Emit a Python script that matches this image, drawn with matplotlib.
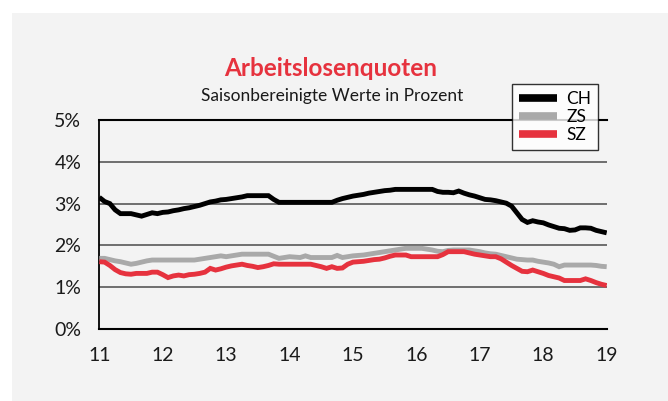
import matplotlib
matplotlib.use("Agg")
import matplotlib.pyplot as plt
from matplotlib.patches import Rectangle
import numpy as np

plt.rcParams['font.family'] = ['Lato', 'DejaVu Sans']

# Monthly values, Jan 2011 .. Jan 2019 (in %)
ch = [3.15, 3.05, 3.00, 2.85, 2.76, 2.76, 2.76, 2.73, 2.70, 2.74, 2.78, 2.76,
      2.79, 2.80, 2.83, 2.85, 2.88, 2.90, 2.93, 2.96, 3.00, 3.04, 3.06, 3.09,
      3.10, 3.12, 3.14, 3.16, 3.19, 3.19, 3.19, 3.19, 3.19, 3.10, 3.03, 3.03,
      3.03, 3.03, 3.03, 3.03, 3.03, 3.03, 3.03, 3.03, 3.03, 3.08, 3.12, 3.15,
      3.18, 3.20, 3.22, 3.25, 3.27, 3.29, 3.31, 3.32, 3.34, 3.34, 3.34, 3.34,
      3.34, 3.34, 3.34, 3.34, 3.29, 3.27, 3.27, 3.26, 3.30, 3.25, 3.21, 3.18,
      3.14, 3.10, 3.09, 3.07, 3.04, 3.01, 2.94, 2.78, 2.62, 2.55, 2.59, 2.56,
      2.54, 2.49, 2.45, 2.41, 2.40, 2.36, 2.37, 2.42, 2.42, 2.41, 2.36, 2.33,
      2.30]
zs = [1.69, 1.69, 1.66, 1.63, 1.61, 1.58, 1.55, 1.57, 1.60, 1.63, 1.65, 1.65,
      1.65, 1.65, 1.65, 1.65, 1.65, 1.65, 1.65, 1.67, 1.69, 1.71, 1.73, 1.75,
      1.73, 1.75, 1.77, 1.79, 1.79, 1.79, 1.79, 1.79, 1.79, 1.74, 1.69, 1.71,
      1.73, 1.72, 1.71, 1.75, 1.71, 1.71, 1.71, 1.71, 1.71, 1.76, 1.71, 1.73,
      1.75, 1.76, 1.77, 1.79, 1.81, 1.83, 1.85, 1.87, 1.89, 1.91, 1.93, 1.93,
      1.93, 1.93, 1.91, 1.89, 1.86, 1.85, 1.88, 1.89, 1.89, 1.89, 1.89, 1.87,
      1.85, 1.82, 1.80, 1.79, 1.76, 1.73, 1.70, 1.67, 1.66, 1.65, 1.65, 1.62,
      1.60, 1.58, 1.55, 1.49, 1.53, 1.53, 1.53, 1.53, 1.53, 1.53, 1.52, 1.50,
      1.49]
sz = [1.61, 1.60, 1.52, 1.42, 1.35, 1.32, 1.31, 1.33, 1.33, 1.33, 1.36, 1.36,
      1.30, 1.23, 1.27, 1.29, 1.27, 1.30, 1.31, 1.33, 1.36, 1.45, 1.41, 1.44,
      1.48, 1.51, 1.53, 1.55, 1.52, 1.50, 1.47, 1.49, 1.52, 1.56, 1.55, 1.55,
      1.55, 1.55, 1.55, 1.55, 1.55, 1.52, 1.49, 1.45, 1.49, 1.45, 1.46, 1.55,
      1.60, 1.61, 1.62, 1.64, 1.66, 1.67, 1.70, 1.74, 1.77, 1.77, 1.77, 1.73,
      1.73, 1.73, 1.73, 1.73, 1.73, 1.78, 1.85, 1.85, 1.85, 1.85, 1.82, 1.79,
      1.77, 1.75, 1.73, 1.73, 1.68, 1.60, 1.52, 1.45, 1.38, 1.37, 1.41, 1.37,
      1.33, 1.28, 1.25, 1.22, 1.16, 1.16, 1.16, 1.16, 1.20, 1.16, 1.11, 1.07,
      1.04]

series_names = ["CH", "ZS", "SZ"]
series_colors = ["#000000", "#a9a9a9", "#e6323e"]
x_ticks = [11, 12, 13, 14, 15, 16, 17, 18, 19]
x_labels = ["11", "12", "13", "14", "15", "16", "17", "18", "19"]
y_ticks = [0, 1, 2, 3, 4, 5]
y_labels = ["0%", "1%", "2%", "3%", "4%", "5%"]
title = "Arbeitslosenquoten"
subtitle = "Saisonbereinigte Werte in Prozent"

W, H = 668, 401
fig = plt.figure(figsize=(W / 100, H / 100), dpi=100, facecolor="white")
fig.patches.append(Rectangle((12 / W, 0), 1 - 12 / W, 1 - 13 / H,
                             transform=fig.transFigure, facecolor="#f3f3f3",
                             edgecolor="none", zorder=-10))

ax = fig.add_axes([99.3 / W, 1 - 329 / H, (606.7 - 99.3) / W, (329 - 120) / H])
ax.set_facecolor("none")

t = 11 + np.arange(len(ch)) / 12.0
for vals, name, col in zip([ch, zs, sz], series_names, series_colors):
    ax.plot(t, vals, color=col, lw=3.5, label=name, solid_capstyle="butt",
            solid_joinstyle="miter", zorder=3)

ax.set_xlim(11, 19)
ax.set_ylim(0, 5)
for v in [1, 2, 3, 4]:
    ax.axhline(v, color="#4a4a4a", lw=1.1, zorder=1)
for v in [0, 5]:
    ax.axhline(v, color="#000000", lw=1.5, zorder=1, clip_on=False)

for s in ["top", "right", "bottom"]:
    ax.spines[s].set_visible(False)
ax.spines["left"].set_color("black")
ax.spines["left"].set_linewidth(1.3)

ax.set_xticks(x_ticks)
ax.set_xticklabels(x_labels)
ax.set_yticks(y_ticks)
ax.set_yticklabels(y_labels)
ax.tick_params(axis="both", length=0, labelsize=14, colors="#1a1a1a")
ax.tick_params(axis="y", pad=13)
ax.tick_params(axis="x", pad=13)

fig.text(331 / W, 1 - 69 / H, title, color="#e6323e", fontsize=17.5,
         fontweight="bold", ha="center", va="center")
fig.text(332 / W, 1 - 96 / H, subtitle, color="#1a1a1a", fontsize=12.5,
         ha="center", va="center")

leg = ax.legend(loc="upper left", bbox_to_anchor=(511.7 / W, 1 - 84.3 / H),
                bbox_transform=fig.transFigure, fontsize=12.5, frameon=True,
                fancybox=False, borderaxespad=0, handlelength=2.2,
                handletextpad=0.55, labelspacing=0.12, borderpad=0.4)
leg.get_frame().set_edgecolor("black")
leg.get_frame().set_linewidth(1.0)
leg.get_frame().set_facecolor("white")
leg.set_zorder(5)
for h in leg.get_lines():
    h.set_linewidth(5.5)

fig.savefig("out.png", dpi=100, facecolor="white")
